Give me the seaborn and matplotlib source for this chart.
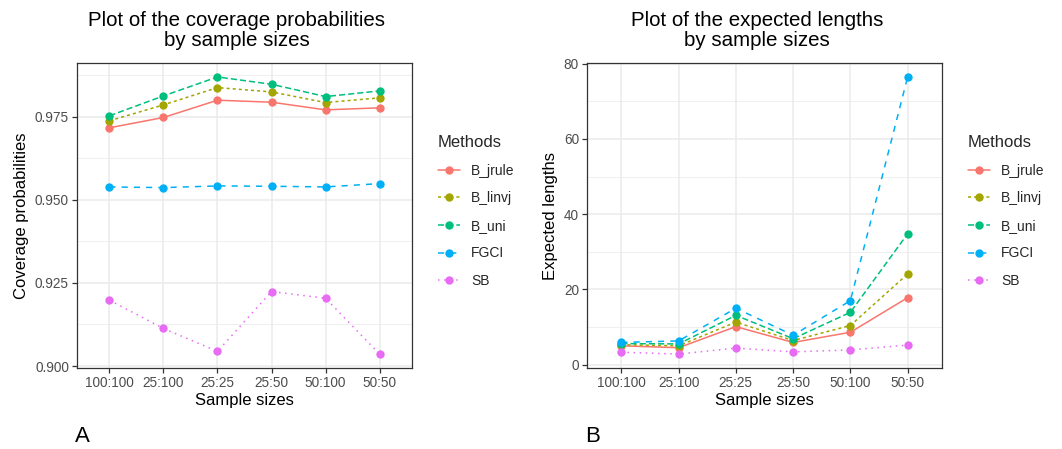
import numpy as np
import pandas as pd
import seaborn as sns
import matplotlib
matplotlib.use("Agg")
from matplotlib import pyplot as plt
from matplotlib.lines import Line2D
from matplotlib.ticker import MultipleLocator

# hodnoty
velikosti = ["100:100", "25:100", "25:25", "25:50", "50:100", "50:50"]
metody = ["B_jrule", "B_linvj", "B_uni", "FGCI", "SB"]

pokryti_jrule = [0.9717, 0.9748, 0.9800, 0.9794, 0.9771, 0.9777]
pokryti_linvj = [0.9738, 0.9786, 0.9838, 0.9825, 0.9793, 0.9807]
pokryti_uni = [0.9753, 0.9813, 0.9870, 0.9848, 0.9811, 0.9828]
pokryti_fgci = [0.9539, 0.9537, 0.9542, 0.9541, 0.9539, 0.9549]
pokryti_sb = [0.9198, 0.9113, 0.9044, 0.9224, 0.9204, 0.9036]

delky_jrule = [5.0, 4.5, 10.1, 5.9, 8.6, 17.8]
delky_linvj = [5.3, 5.0, 11.3, 6.4, 10.4, 24.1]
delky_uni = [5.6, 5.5, 13.1, 6.9, 13.9, 34.8]
delky_fgci = [5.9, 6.3, 15.0, 7.8, 17.0, 76.5]
delky_sb = [3.3, 2.8, 4.4, 3.4, 3.9, 5.2]

barvy = ["#F8766D", "#A3A500", "#00BF7D", "#00B0F6", "#E76BF3"]
carky = ["", (2, 2), (4, 2), (4, 4), (1, 3)]


def dlouhy_format(serie, sloupec):
  radky = []
  for metoda, hodnoty in zip(metody, serie):
    for vel, h in zip(velikosti, hodnoty):
      radky.append({"Sample sizes": vel, "Methods": metoda, sloupec: h})
  return pd.DataFrame(radky)


pokryti = dlouhy_format([pokryti_jrule, pokryti_linvj, pokryti_uni,
                         pokryti_fgci, pokryti_sb], "Coverage probabilities")
delky = dlouhy_format([delky_jrule, delky_linvj, delky_uni,
                       delky_fgci, delky_sb], "Expected lengths")

sns.set_theme(style="white")
plt.rcParams["font.family"] = ["Liberation Sans", "DejaVu Sans"]

fig = plt.figure(figsize=(10.62, 4.49), dpi=100)
ax1 = fig.add_axes([77 / 1062, 1 - 368 / 449, 335 / 1062, 305 / 449])
ax2 = fig.add_axes([587 / 1062, 1 - 368 / 449, 355 / 1062, 305 / 449])

paleta = dict(zip(metody, barvy))
styly = dict(zip(metody, carky))

for ax, df, sloupec in [(ax1, pokryti, "Coverage probabilities"),
                        (ax2, delky, "Expected lengths")]:
  sns.lineplot(data=df, x="Sample sizes", y=sloupec, hue="Methods",
               style="Methods", palette=paleta, dashes=styly,
               markers={m: "o" for m in metody}, markersize=6,
               markeredgewidth=0, linewidth=1.1, sort=False,
               legend=False, ax=ax)
  ax.set_xlim(-0.6, len(velikosti) - 0.4)
  ax.grid(True, which="major", color="#EBEBEB", linewidth=1.1)
  ax.grid(True, which="minor", axis="y", color="#EBEBEB", linewidth=0.55)
  ax.set_axisbelow(True)
  for s in ax.spines.values():
    s.set_color("#333333")
    s.set_linewidth(0.9)
  ax.tick_params(axis="both", which="major", length=3.8, width=0.9,
                 color="#333333", labelcolor="#4D4D4D", labelsize=9.8,
                 pad=2, bottom=True, left=True)
  ax.tick_params(axis="y", which="minor", length=0)
  ax.set_xlabel("Sample sizes", fontsize=12, labelpad=2, color="black")
  ax.set_ylabel(sloupec, fontsize=12, labelpad=4, color="black")

ax1.set_ylim(0.8994, 0.9912)
ax1.yaxis.set_major_locator(MultipleLocator(0.025))
ax1.yaxis.set_minor_locator(MultipleLocator(0.0125))
ax1.yaxis.set_major_formatter(matplotlib.ticker.FormatStrFormatter("%.3f"))

ax2.set_ylim(-0.9, 80.2)
ax2.yaxis.set_major_locator(MultipleLocator(20))
ax2.yaxis.set_minor_locator(MultipleLocator(10))

# legendy vpravo od obou grafů
handles = [Line2D([], [], color=c, linewidth=1.1, marker="o", markersize=6,
                  markeredgewidth=0,
                  linestyle="-" if d == "" else (0, d))
           for c, d in zip(barvy, carky)]
for x0 in [438, 968]:
  fig.legend(handles, metody, title="Methods", loc="upper left",
             bbox_to_anchor=(x0 / 1062, 1 - 135 / 449), frameon=False,
             fontsize=10, title_fontsize=12, borderpad=0, borderaxespad=0,
             labelspacing=0.98, handlelength=1.6, handletextpad=0.8,
             alignment="left")

fig.text(237 / 1062, 1 - 11 / 449,
         "Plot of the coverage probabilities\nby sample sizes",
         ha="center", va="top", fontsize=14.8, linespacing=1.08,
         color="black")
fig.text(757 / 1062, 1 - 11 / 449,
         "Plot of the expected lengths\nby sample sizes",
         ha="center", va="top", fontsize=14.8, linespacing=1.08,
         color="black")
fig.text(75 / 1062, 1 - 437 / 449, "A", ha="left", va="center", fontsize=16,
         color="black")
fig.text(585 / 1062, 1 - 437 / 449, "B", ha="left", va="center", fontsize=16,
         color="black")

fig.savefig("out.png", dpi=100, facecolor="white")
